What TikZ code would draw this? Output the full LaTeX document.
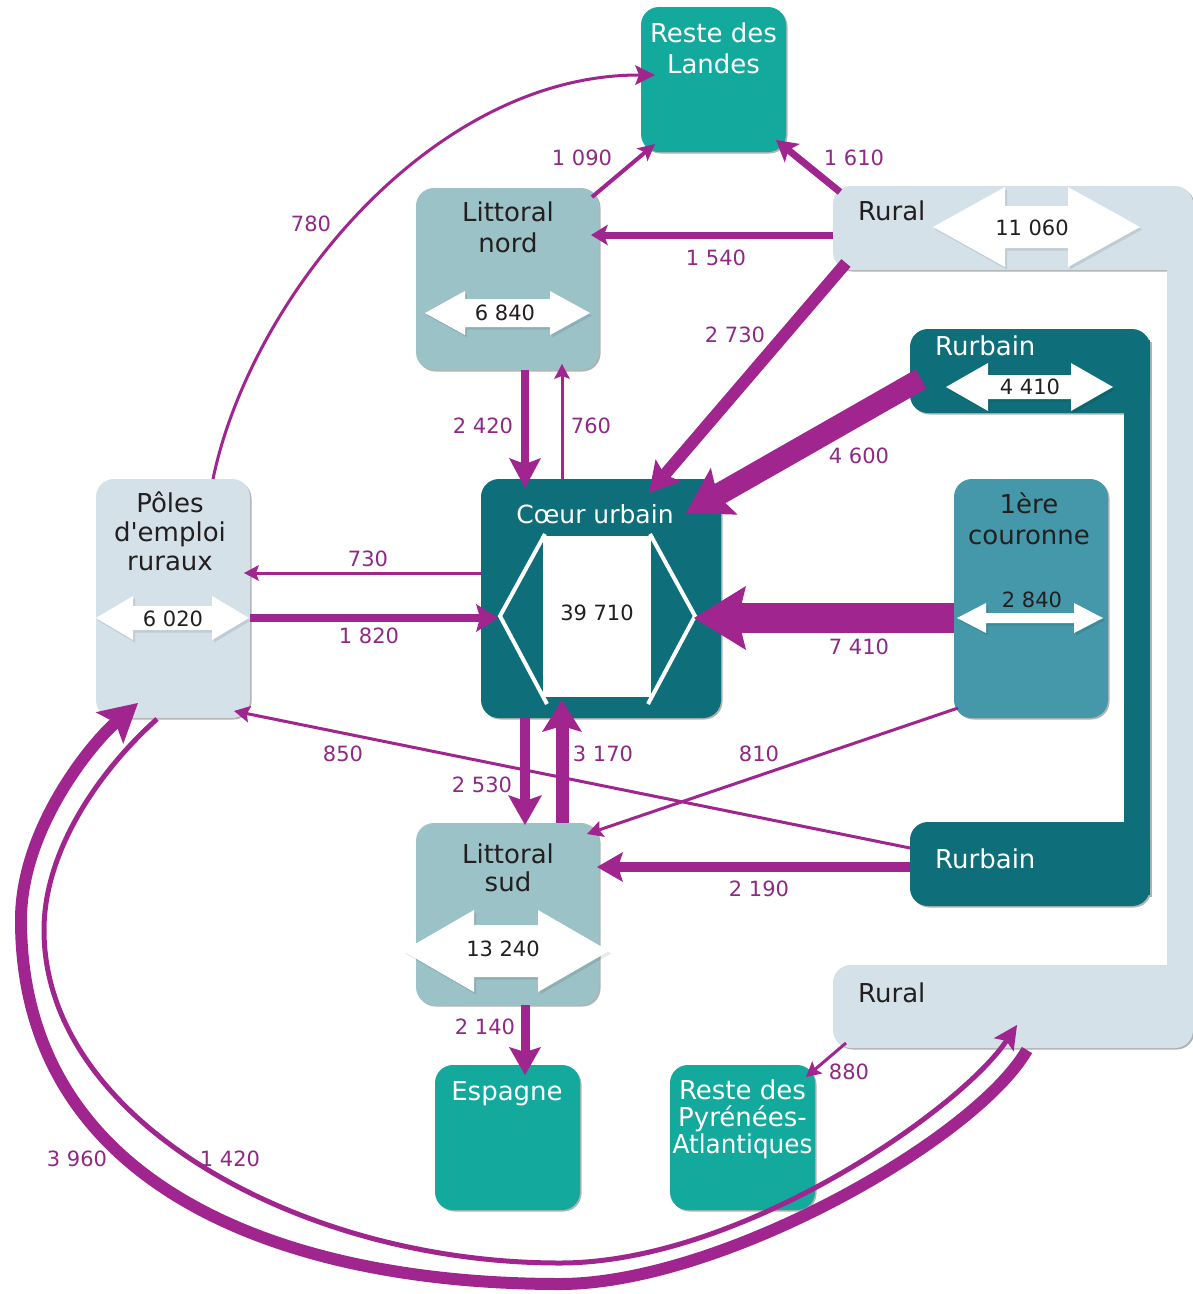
\documentclass[tikz,border=0pt]{standalone}
\usepackage{fontspec}
\newfontfamily\dv{DejaVu Sans}
\usetikzlibrary{arrows.meta,shadows}
\definecolor{tealL}{HTML}{13A99D}
\definecolor{litt}{HTML}{9BC2C7}
\definecolor{rur}{HTML}{D4E1E9}
\definecolor{dark}{HTML}{0E6F7B}
\definecolor{cour}{HTML}{4498A9}
\definecolor{purp}{HTML}{A0258E}
\definecolor{plab}{HTML}{8E2A84}
\definecolor{txt}{HTML}{231F20}
% cx, cy, half length, head length, head half-height, shaft half-height
\newcommand\dblarrow[6]{%
\fill[black,opacity=.09,shift={(2,2.5)}] (#1-#3,#2) -- (#1-#3+#4,#2-#5) -- (#1-#3+#4,#2-#6) -- (#1+#3-#4,#2-#6) -- (#1+#3-#4,#2-#5) -- (#1+#3,#2) -- (#1+#3-#4,#2+#5) -- (#1+#3-#4,#2+#6) -- (#1-#3+#4,#2+#6) -- (#1-#3+#4,#2+#5) -- cycle;
\fill[white] (#1-#3,#2) -- (#1-#3+#4,#2-#5) -- (#1-#3+#4,#2-#6) -- (#1+#3-#4,#2-#6) -- (#1+#3-#4,#2-#5) -- (#1+#3,#2) -- (#1+#3-#4,#2+#5) -- (#1+#3-#4,#2+#6) -- (#1-#3+#4,#2+#6) -- (#1-#3+#4,#2+#5) -- cycle;}
\tikzset{
 box/.style={rectangle, rounded corners=18pt, inner sep=0pt, draw=none},
 shd/.style={drop shadow={shadow xshift=1.5pt, shadow yshift=-1.5pt, opacity=.3, fill=black}},
 blab/.style={font=\dv\fontsize{26}{31}\selectfont, align=center, inner sep=0pt, anchor=base},
 num/.style={font=\dv\fontsize{21}{25}\selectfont, text=txt, inner sep=0pt},
 flab/.style={font=\dv\fontsize{21}{25}\selectfont, text=plab, inner sep=0pt},
 flow/.style={draw=purp, line width=#1pt},
 ar/.style n args={3}{arrows={-{Stealth[length=#1pt, width=#2pt, inset=#3pt, line width=0pt]}}},
}
\begin{document}
\begin{tikzpicture}[x=1pt,y=-1pt]
\useasboundingbox (0,0) rectangle (1193,1294);
\fill[white] (0,0) rectangle (1193,1294);

% ---------- C-shape shadows ----------
\begin{scope}[shift={(1.5,1.5)}]
 \fill[black!30, rounded corners=18pt] (833,186) rectangle (1193,270);
 \fill[black!30, rounded corners=18pt] (833,965) rectangle (1193,1048);
 \fill[black!30] (1167,200) rectangle (1193,1030);
 \fill[black!30, rounded corners=18pt] (910,329) rectangle (1150,413);
 \fill[black!30, rounded corners=18pt] (910,822) rectangle (1150,906);
 \fill[black!30] (1124,340) rectangle (1150,895);
\end{scope}
% ---------- Rural C-shape ----------
\node[box, fill=rur, minimum width=360pt, minimum height=84pt] (ruraltop) at (1013,228) {};
\node[box, fill=rur, minimum width=360pt, minimum height=83pt] (ruralbot) at (1013,1006.5) {};
\fill[rur] (1167,200) rectangle (1193,1030);
% ---------- Rurbain C-shape ----------
\node[box, fill=dark, minimum width=240pt, minimum height=84pt] (rurbtop) at (1030,371) {};
\node[box, fill=dark, minimum width=240pt, minimum height=84pt] (rurbbot) at (1030,864) {};
\fill[dark] (1124,340) rectangle (1150,895);

% ---------- boxes ----------
\node[box, shd, fill=tealL, minimum width=145pt, minimum height=145pt] (landes) at (713.5,79.5) {};
\node[box, shd, fill=litt, minimum width=183pt, minimum height=182pt] (lnord) at (507.5,279) {};
\node[box, shd, fill=dark, minimum width=240pt, minimum height=239pt] (coeur) at (601,598.5) {};
\node[box, shd, fill=cour, minimum width=154pt, minimum height=239pt] (couronne) at (1031,598.5) {};
\node[box, shd, fill=rur, minimum width=154pt, minimum height=239pt] (poles) at (173,598.5) {};
\node[box, shd, fill=litt, minimum width=183pt, minimum height=182pt] (lsud) at (507.5,914) {};
\node[box, shd, fill=tealL, minimum width=145pt, minimum height=145pt] (espagne) at (507.5,1137.5) {};
\node[box, shd, fill=tealL, minimum width=145pt, minimum height=145pt] (pyr) at (742.5,1137.5) {};

% ---------- internal double arrows ----------
\dblarrow{507.5}{313}{82.5}{40}{22}{14}
\dblarrow{1036.5}{227}{103.5}{72}{40}{21}
\dblarrow{1029.5}{387}{83.5}{42}{24}{12}
\dblarrow{1030}{618}{73}{29}{15}{5}
\dblarrow{172.5}{618}{76.5}{37}{22}{12}
\dblarrow{506}{951}{103}{71}{41}{26}
% Coeur urbain
\fill[white] (543,536) rectangle (651,697);
\draw[white, line width=4pt, line join=miter] (545,534) -- (500,616) -- (547,704);
\draw[white, line width=4pt, line join=miter] (650,534) -- (695,616) -- (648,704);

\node[num] (n6840) at (505,313) {6 840};
\node[num] (n11060) at (1032,228) {11 060};
\node[num] (n4410) at (1030,387) {4 410};
\node[num] (n2840) at (1032,600) {2 840};
\node[num] (n6020) at (173,619) {6 020};
\node[num] (n13240) at (503,949) {13 240};
\node[num] (n39710) at (597,613) {39 710};

% ---------- box labels (base = last line) ----------
\node[blab, text=white] (tlandes) at (713.5,73) {Reste des\\Landes};
\node[blab, text=txt] (tlnord) at (508,252) {Littoral\\nord};
\node[blab, text=white, font=\dv\fontsize{25}{30}\selectfont] (tcoeur) at (595,523) {Cœur urbain};
\node[blab, text=txt] (tcour) at (1029,544) {1ère\\couronne};
\node[blab, text=txt, font=\dv\fontsize{26}{29}\selectfont] (tpoles) at (170,570) {Pôles\\d'emploi\\ruraux};
\node[blab, text=txt, font=\dv\fontsize{26}{28}\selectfont] (tlsud) at (508,891) {Littoral\\sud};
\node[blab, text=white] (tesp) at (507,1100) {Espagne};
\node[blab, text=white, font=\dv\fontsize{26}{27}\selectfont] (tpyr) at (742.5,1153) {Reste des\\Pyrénées-\\\scalebox{0.95}[1]{Atlantiques}};
\node[blab, text=txt, anchor=base west] (trt) at (858,220) {Rural};
\node[blab, text=white, anchor=base west] (tut) at (935,355) {Rurbain};
\node[blab, text=white, anchor=base west] (tub) at (935,868) {Rurbain};
\node[blab, text=txt, anchor=base west] (trb) at (858,1002) {Rural};

% ---------- flows ----------
\draw[flow=4, ar={17}{17}{4}] ([shift={(84.5,-82)}]lnord.center) -- ([shift={(-58.5,64.5)}]landes.center);
\draw[flow=7, ar={21}{24}{5}] ([shift={(-173,-36)}]ruraltop.center) -- ([shift={(62.5,60.5)}]landes.center);
\draw[flow=7, ar={17}{21}{4}] ([shift={(-180,7)}]ruraltop.center) -- ([shift={(83.5,-44)}]lnord.center);
\draw[flow=12, ar={30}{34}{6}] ([shift={(-167,35)}]ruraltop.center) -- ([shift={(48,-105.5)}]coeur.center);
\draw[flow=22, ar={44}{54}{8}] ([shift={(-109,8)}]rurbtop.center) -- ([shift={(85,-85.5)}]coeur.center);
\draw[flow=8, ar={30}{32}{6}] ([shift={(17.5,91)}]lnord.center) -- ([shift={(-76,-110.5)}]coeur.center);
\draw[flow=3, ar={15}{16}{3}] ([shift={(-39,-119.5)}]coeur.center) -- ([shift={(54.5,85)}]lnord.center);
\draw[flow=3, ar={15}{16}{3}] ([shift={(-120,-25.5)}]coeur.center) -- ([shift={(71,-25.5)}]poles.center);
\draw[flow=8, ar={22}{28}{4}] ([shift={(77,19.5)}]poles.center) -- ([shift={(-103,19.5)}]coeur.center);
\draw[flow=30, ar={52}{64}{8}] ([shift={(-77,19.5)}]couronne.center) -- ([shift={(93,19.5)}]coeur.center);
\draw[flow=10, ar={30}{34}{6}] ([shift={(-76,119.5)}]coeur.center) -- ([shift={(17.5,-89)}]lsud.center);
\draw[flow=13, ar={32}{40}{6}] ([shift={(54.5,-91)}]lsud.center) -- ([shift={(-39,101.5)}]coeur.center);
\draw[flow=3, ar={16}{17}{3}] ([shift={(-120,-16)}]rurbbot.center) -- ([shift={(61,112.5)}]poles.center);
\draw[flow=3, ar={16}{17}{3}] ([shift={(-73,109.5)}]couronne.center) -- ([shift={(79.5,-80)}]lsud.center);
\draw[flow=10, ar={26}{30}{5}] ([shift={(-120,3)}]rurbbot.center) -- ([shift={(89.5,-47)}]lsud.center);
\draw[flow=9, ar={28}{32}{5}] ([shift={(17.5,91)}]lsud.center) -- ([shift={(17.5,-62.5)}]espagne.center);
\draw[flow=3, ar={15}{16}{3}] ([shift={(-167,36.5)}]ruralbot.center) -- ([shift={(63.5,-60.5)}]pyr.center);
\draw[flow=3, ar={20}{20}{4}] ([shift={(40,-119.5)}]poles.center) .. controls (250,300) and (430,75) .. ([shift={(-58.5,-4.5)}]landes.center);

% big loops between Rural and Poles
\draw[flow=12, ar={38}{42}{8}] ([shift={(14,43.5)}]ruralbot.center)
   .. controls (975,1140) and (720,1284) .. (560,1284)
   .. controls (280,1284) and (21,1185) .. (21,920)
   .. controls (21,830) and (90,745) .. ([shift={(-35,104.5)}]poles.center);
\draw[flow=5, ar={24}{24}{5}] ([shift={(-16,120.5)}]poles.center)
   .. controls (100,770) and (44,850) .. (44,930)
   .. controls (44,1120) and (300,1263) .. (560,1263)
   .. controls (740,1263) and (960,1110) .. ([shift={(4,18.5)}]ruralbot.center);

% ---------- flow labels ----------
\node[flab] (l1090) at (582,158) {1 090};
\node[flab] (l1610) at (854,158) {1 610};
\node[flab] (l1540) at (716,258) {1 540};
\node[flab] (l2730) at (735,335) {2 730};
\node[flab] (l4600) at (859,456) {4 600};
\node[flab] (l2420) at (483,426) {2 420};
\node[flab] (l760) at (591,426) {760};
\node[flab] (l730) at (368,559) {730};
\node[flab] (l1820) at (369,636) {1 820};
\node[flab] (l7410) at (859,647) {7 410};
\node[flab] (l2530) at (482,785) {2 530};
\node[flab] (l3170) at (603,754) {3 170};
\node[flab] (l850) at (343,754) {850};
\node[flab] (l810) at (759,754) {810};
\node[flab] (l2190) at (759,889) {2 190};
\node[flab] (l2140) at (485,1027) {2 140};
\node[flab] (l880) at (849,1072) {880};
\node[flab] (l780) at (311,224) {780};
\node[flab] (l3960) at (77,1159) {3 960};
\node[flab] (l1420) at (230,1159) {1 420};
\end{tikzpicture}
\end{document}
